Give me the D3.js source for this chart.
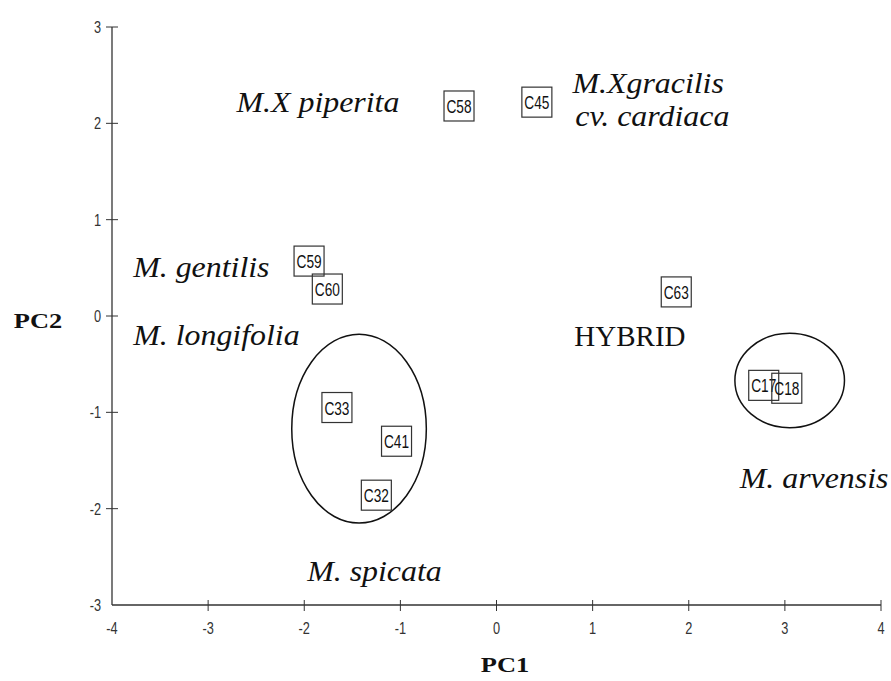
<!DOCTYPE html>
<html><head><meta charset="utf-8">
<script src="https://cdn.jsdelivr.net/npm/d3@7"></script>
<style>body{margin:0;background:#fff}svg{display:block}</style>
</head><body>
<script>
const codes = ["C58","C45","C63","C59","C60","C33","C41","C32","C17","C18"];
const pc1   = [-0.39, 0.42, 1.87, -1.95, -1.76, -1.66, -1.04, -1.25, 2.78, 3.02];
const pc2   = [ 2.18, 2.22, 0.25,  0.57,  0.28, -0.95, -1.30, -1.86, -0.72, -0.75];
const xTicks = [-4,-3,-2,-1,0,1,2,3,4];
const yTicks = [-3,-2,-1,0,1,2,3];
// group ellipses: centre and radii in PC units
const ellCx = [-1.43, 3.05];
const ellCy = [-1.17, -0.67];
const ellRx = [0.70, 0.57];
const ellRy = [0.98, 0.49];
// species annotations (anchor in PC units)
const labText = ["M.X piperita","M.Xgracilis","cv. cardiaca","M. gentilis","M. longifolia","HYBRID","M. arvensis","M. spicata"];
const labX    = [-2.705, 0.79, 0.82, -3.78, -3.78, 0.81, 2.53, -1.97];
const labY    = [ 2.12, 2.315, 1.97, 0.405, -0.30, -0.31, -1.79, -2.75];
const labItal = [true,true,true,true,true,false,true,true];

const W=891,H=681;
const svg=d3.select("body").append("svg").attr("width",W).attr("height",H);
const x=d3.scaleLinear().domain([-4,4]).range([112,881]);
const y=d3.scaleLinear().domain([-3,3]).range([605,27]);
const axCol="#333";
const tickFont="Liberation Sans, Arial, sans-serif";

// axes lines
svg.append("line").attr("x1",x(-4)).attr("x2",x(4)).attr("y1",y(-3)).attr("y2",y(-3)).attr("stroke",axCol).attr("stroke-width",1.3);
svg.append("line").attr("x1",x(-4)).attr("x2",x(-4)).attr("y1",y(-3)).attr("y2",y(3)).attr("stroke",axCol).attr("stroke-width",1.3);

function condensed(px,py,txt,anchor){
  return svg.append("text").attr("transform",`translate(${px},${py}) scale(0.75,1)`)
    .attr("text-anchor",anchor).attr("font-family",tickFont).attr("font-size",17)
    .attr("fill","#333").text(txt);
}
xTicks.forEach(t=>{
  if(t!==-4) svg.append("line").attr("x1",x(t)).attr("x2",x(t)).attr("y1",y(-3)-5).attr("y2",y(-3)+6).attr("stroke",axCol);
  condensed(x(t),y(-3)+29,t,"middle");
});
yTicks.forEach(t=>{
  if(t!==-3) svg.append("line").attr("x1",x(-4)-6).attr("x2",x(-4)+6).attr("y1",y(t)).attr("y2",y(t)).attr("stroke",axCol);
  condensed(x(-4)-11,y(t)+6,t,"end");
});

function stretched(px,py,txt,opts){
  const t=svg.append("text").attr("transform",`translate(${px},${py}) scale(${opts.sx},1)`)
    .attr("text-anchor",opts.anchor||"start")
    .attr("font-family","Liberation Serif, Times New Roman, serif")
    .attr("font-size",opts.size).attr("fill","#111").text(txt);
  if(opts.bold) t.attr("font-weight","bold");
  if(opts.italic) t.attr("font-style","italic");
  return t;
}
stretched(505,672,"PC1",{sx:1.2,size:22,bold:true,anchor:"middle"});
stretched(38,328,"PC2",{sx:1.2,size:22,bold:true,anchor:"middle"});

// ellipses
ellCx.forEach((cx,i)=>{
  svg.append("ellipse").attr("cx",x(cx)).attr("cy",y(ellCy[i]))
    .attr("rx",x(cx+ellRx[i])-x(cx)).attr("ry",y(ellCy[i]-ellRy[i])-y(ellCy[i]))
    .attr("fill","none").attr("stroke","#111").attr("stroke-width",1.5);
});

// points as labelled boxes
const g=svg.append("g");
codes.forEach((c,i)=>{
  const cx=x(pc1[i]), cy=y(pc2[i]);
  g.append("rect").attr("x",cx-15).attr("y",cy-15).attr("width",30).attr("height",30)
    .attr("fill","none").attr("stroke","#333").attr("stroke-width",1.2);
  g.append("text").attr("transform",`translate(${cx},${cy+7}) scale(0.72,1)`).attr("text-anchor","middle")
    .attr("font-family",tickFont).attr("font-size",19)
    .attr("fill","#111").text(c);
});

// species labels
labText.forEach((t,i)=>{
  stretched(x(labX[i]),y(labY[i]),t,{sx:labItal[i]?1.1:1.0,size:29,italic:labItal[i]});
});
</script>
</body></html>
